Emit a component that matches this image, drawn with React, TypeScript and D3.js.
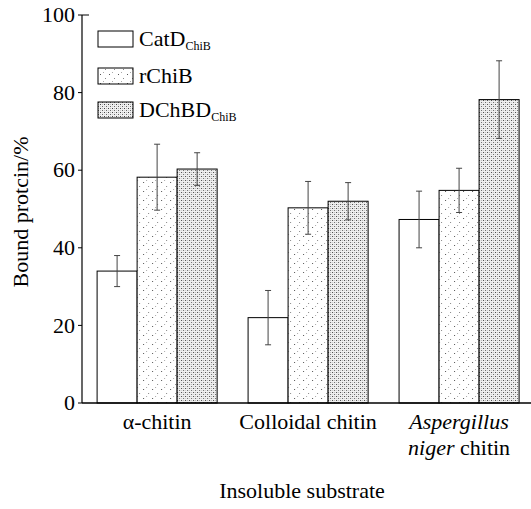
import React from "react";
import * as d3 from "d3";

const categories = ["α-chitin", "Colloidal chitin", "Aspergillus niger chitin"];
const seriesNames = ["CatD", "rChiB", "DChBD"];
const catdValues = [34, 22, 47.3];
const catdErrors = [4, 7, 7.3];
const rchibValues = [58.2, 50.3, 54.8];
const rchibErrors = [8.5, 6.8, 5.7];
const dchbdValues = [60.3, 52, 78.2];
const dchbdErrors = [4.2, 4.8, 10];
const yTicks = [0, 20, 40, 60, 80, 100];

const W = 531;
const H = 509;
const margin = { top: 15, right: 0, bottom: 106, left: 82 };

const font = '"Liberation Serif", "Times New Roman", Times, serif';
const fs = 22;

const App = () => {
  const series = [
    { name: seriesNames[0], values: catdValues, errors: catdErrors, fill: "#fff" },
    { name: seriesNames[1], values: rchibValues, errors: rchibErrors, fill: "url(#sparse)" },
    { name: seriesNames[2], values: dchbdValues, errors: dchbdErrors, fill: "url(#dense)" },
  ];

  const y = d3.scaleLinear().domain([0, 100]).range([H - margin.bottom, margin.top]);
  const x0 = d3
    .scaleBand()
    .domain(categories)
    .range([margin.left, 534.2])
    .paddingInner(0.205)
    .paddingOuter(0.1);
  const x1 = d3.scaleBand().domain(seriesNames).range([0, x0.bandwidth()]);
  const mid = (c: string) => (x0(c) as number) + x0.bandwidth() / 2;

  return (
    <svg
      width={W}
      height={H}
      style={{ position: "absolute", left: 0, top: 0, background: "#fff", fontFamily: font }}
    >
      <defs>
        <pattern id="sparse" width="9" height="9" patternUnits="userSpaceOnUse">
          <rect width="9" height="9" fill="#fff" />
          <rect x="1" y="2" width="1" height="1" fill="#555" />
          <rect x="6" y="6" width="1" height="1" fill="#888" />
          <rect x="4" y="0" width="1" height="1" fill="#aaa" />
        </pattern>
        <pattern id="dense" width="4" height="4" patternUnits="userSpaceOnUse">
          <rect width="4" height="4" fill="#f0f0f0" />
          <rect x="0" y="0" width="1" height="1" fill="#444" />
          <rect x="2" y="2" width="1" height="1" fill="#666" />
          <rect x="2" y="0" width="1" height="1" fill="#bbb" />
          <rect x="0" y="2" width="1" height="1" fill="#ccc" />
        </pattern>
      </defs>

      {/* bars */}
      {categories.map((c, i) => (
        <g key={c} transform={`translate(${x0(c)},0)`}>
          {series.map((s) => (
            <rect
              key={s.name}
              x={x1(s.name)}
              y={y(s.values[i])}
              width={x1.bandwidth()}
              height={y(0) - y(s.values[i])}
              fill={s.fill}
              stroke="#000"
              strokeWidth={1}
            />
          ))}
          {series.map((s) => {
            const cx = (x1(s.name) as number) + x1.bandwidth() / 2;
            const hi = y(s.values[i] + s.errors[i]);
            const lo = y(s.values[i] - s.errors[i]);
            return (
              <g key={s.name + "e"} stroke="#444" strokeWidth={1}>
                <line x1={cx} x2={cx} y1={hi} y2={lo} />
                <line x1={cx - 3} x2={cx + 3} y1={hi} y2={hi} />
                <line x1={cx - 3} x2={cx + 3} y1={lo} y2={lo} />
              </g>
            );
          })}
        </g>
      ))}

      {/* axes */}
      <line x1={margin.left} x2={margin.left} y1={margin.top} y2={y(0)} stroke="#000" strokeWidth={1.2} />
      <line x1={margin.left} x2={W} y1={y(0)} y2={y(0)} stroke="#000" strokeWidth={1.5} />
      <line x1={margin.left} x2={margin.left + 7} y1={y(100)} y2={y(100)} stroke="#000" />
      {yTicks.map((t) => (
        <g key={t}>
          <line x1={margin.left - 4} x2={margin.left} y1={y(t)} y2={y(t)} stroke="#000" />
          <text x={margin.left - 7} y={y(t)} dy="0.33em" textAnchor="end" fontSize={fs}>
            {t}
          </text>
        </g>
      ))}

      {/* category labels */}
      <g fontSize={fs} textAnchor="middle">
        <text x={mid(categories[0])} y={429}>
          {categories[0]}
        </text>
        <text x={mid(categories[1])} y={429}>
          {categories[1]}
        </text>
        <text x={mid(categories[2])} y={429} fontStyle="italic">
          Aspergillus
        </text>
        <text x={mid(categories[2])} y={455}>
          <tspan fontStyle="italic">niger</tspan> chitin
        </text>
      </g>

      {/* axis titles */}
      <text x={302} y={498} textAnchor="middle" fontSize={fs}>
        Insoluble substrate
      </text>
      <text
        transform={`translate(28,${(margin.top + y(0)) / 2 + 3}) rotate(-90)`}
        textAnchor="middle"
        fontSize={fs}
      >
        Bound protcin/%
      </text>

      {/* legend */}
      {series.map((s, i) => {
        const ly = [31, 68, 102][i];
        return (
          <g key={s.name + "l"}>
            <rect x={98} y={ly} width={35} height={16} fill={s.fill} stroke="#000" strokeWidth={1} />
            <text x={139} y={ly + 15} fontSize={fs}>
              {s.name}
              {i !== 1 ? (
                <tspan fontSize={12} dy={4}>
                  ChiB
                </tspan>
              ) : null}
            </text>
          </g>
        );
      })}
    </svg>
  );
};

export default App;
